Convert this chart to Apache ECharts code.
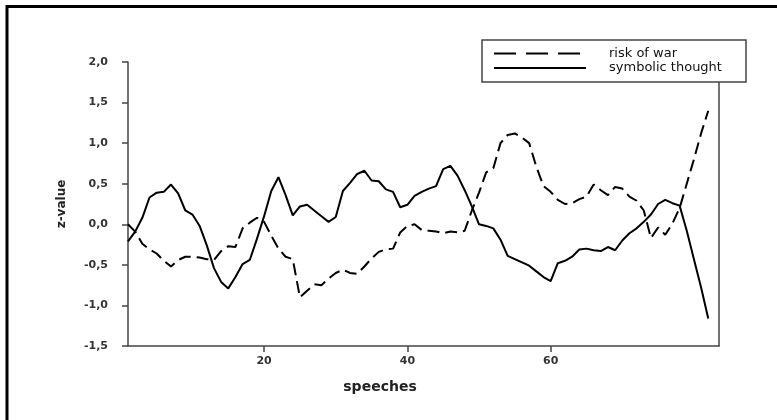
<!DOCTYPE html>
<html>
<head>
<meta charset="utf-8">
<script src="https://cdn.jsdelivr.net/npm/echarts@6/dist/echarts.min.js"></script>
<style>
html,body{margin:0;padding:0;background:#fff;}
#c{width:777px;height:420px;}
</style>
</head>
<body>
<div id="c"></div>
<script>
const speeches = [1,2,3,4,5,6,7,8,9,10,11,12,13,14,15,16,17,18,19,20,21,22,23,24,25,26,27,28,29,30,31,32,33,34,35,36,37,38,39,40,41,42,43,44,45,46,47,48,49,50,51,52,53,54,55,56,57,58,59,60,61,62,63,64,65,66,67,68,69,70,71,72,73,74,75,76,77,78,79,80,81,82];
const riskOfWar = [0.00,-0.09,-0.24,-0.31,-0.36,-0.45,-0.52,-0.44,-0.40,-0.40,-0.41,-0.43,-0.44,-0.33,-0.27,-0.28,-0.05,0.02,0.08,0.03,-0.14,-0.30,-0.40,-0.43,-0.90,-0.82,-0.74,-0.75,-0.67,-0.60,-0.56,-0.60,-0.61,-0.52,-0.42,-0.34,-0.31,-0.30,-0.10,-0.02,0.00,-0.07,-0.08,-0.09,-0.11,-0.09,-0.10,-0.08,0.17,0.39,0.64,0.69,1.00,1.10,1.12,1.07,1.00,0.71,0.47,0.40,0.30,0.25,0.26,0.31,0.34,0.49,0.42,0.36,0.46,0.44,0.34,0.29,0.17,-0.17,-0.04,-0.13,0.01,0.20,0.50,0.80,1.12,1.40];
const symbolicThought = [-0.21,-0.09,0.08,0.33,0.39,0.40,0.49,0.38,0.17,0.12,-0.02,-0.26,-0.54,-0.71,-0.79,-0.65,-0.49,-0.44,-0.18,0.10,0.41,0.58,0.36,0.11,0.22,0.24,0.17,0.10,0.03,0.09,0.41,0.51,0.62,0.66,0.54,0.53,0.43,0.40,0.21,0.24,0.35,0.40,0.44,0.47,0.68,0.72,0.60,0.42,0.22,0.00,-0.02,-0.05,-0.19,-0.39,-0.43,-0.47,-0.51,-0.58,-0.65,-0.70,-0.48,-0.45,-0.40,-0.31,-0.30,-0.32,-0.33,-0.28,-0.32,-0.20,-0.11,-0.05,0.03,0.12,0.25,0.30,0.26,0.23,-0.08,-0.43,-0.78,-1.16];
const xTicks = [20,40,60];
const seriesNames = ['risk of war','symbolic thought'];

const chart = echarts.init(document.getElementById('c'), null, {renderer:'canvas'});
const axisCol = '#444';
const font = 'DejaVu Sans';
chart.setOption({
  animation:false,
  backgroundColor:'#fff',
  grid:{left:128,right:58,top:62,bottom:74},
  xAxis:{
    type:'value', min:1, max:83.5,
    name:'speeches', nameLocation:'middle', nameGap:34,
    nameTextStyle:{fontFamily:font,fontWeight:'bold',fontSize:14,color:'#222',padding:[0,87,0,0]},
    axisLine:{show:true,onZero:false,lineStyle:{color:axisCol,width:1.5}},
    axisTick:{show:true,inside:false,length:6,customValues:xTicks,lineStyle:{color:axisCol,width:1.5}},
    axisLabel:{customValues:xTicks,fontFamily:font,fontWeight:'bold',fontSize:11,color:'#333',margin:10},
    splitLine:{show:false}
  },
  yAxis:[{
    type:'value', min:-1.5, max:2.0, interval:0.5,
    name:'z-value', nameLocation:'middle', nameGap:60, nameRotate:90,
    nameTextStyle:{fontFamily:font,fontWeight:'bold',fontSize:12,color:'#222'},
    axisLine:{show:true,lineStyle:{color:axisCol,width:1.5}},
    axisTick:{show:true,inside:false,length:6,lineStyle:{color:axisCol,width:1.5}},
    axisLabel:{fontFamily:font,fontWeight:'bold',fontSize:11,color:'#333',margin:20,
      formatter:v=>v.toFixed(1).replace('.',',')},
    splitLine:{show:false}
  },{
    type:'value', min:-1.5, max:2.0, interval:0.5, position:'right',
    axisLine:{show:true,lineStyle:{color:axisCol,width:1.5}},
    axisTick:{show:false}, axisLabel:{show:false}, splitLine:{show:false}
  }],
  legend:{
    orient:'vertical', left:493, top:47, itemWidth:92, itemHeight:12, itemGap:1.5,
    padding:0, z:20,
    itemStyle:{opacity:0},
    textStyle:{fontFamily:font,fontSize:13,color:'#111',padding:[0,0,0,18]},
    data:[
      {name:seriesNames[0], lineStyle:{type:[22,10],width:2,color:'#000'}},
      {name:seriesNames[1], lineStyle:{type:'solid',width:2,color:'#000'}}
    ]
  },
  graphic:[
    {type:'rect',z:10,shape:{x:482,y:40,width:264,height:42},style:{fill:'#fff',stroke:'#444',lineWidth:1.5}},
    {type:'rect',z:10,shape:{x:7,y:6.5,width:820,height:500},style:{fill:null,stroke:'#000',lineWidth:3}}
  ],
  series:[
    {name:seriesNames[0],type:'line',symbol:'none',smooth:false,
     data:speeches.map((s,i)=>[s,riskOfWar[i]]),
     lineStyle:{color:'#000',width:2,type:[12,6]},itemStyle:{color:'#000'}},
    {name:seriesNames[1],type:'line',symbol:'none',smooth:false,
     data:speeches.map((s,i)=>[s,symbolicThought[i]]),
     lineStyle:{color:'#000',width:2,type:'solid'},itemStyle:{color:'#000'}}
  ]
});
</script>
</body>
</html>
